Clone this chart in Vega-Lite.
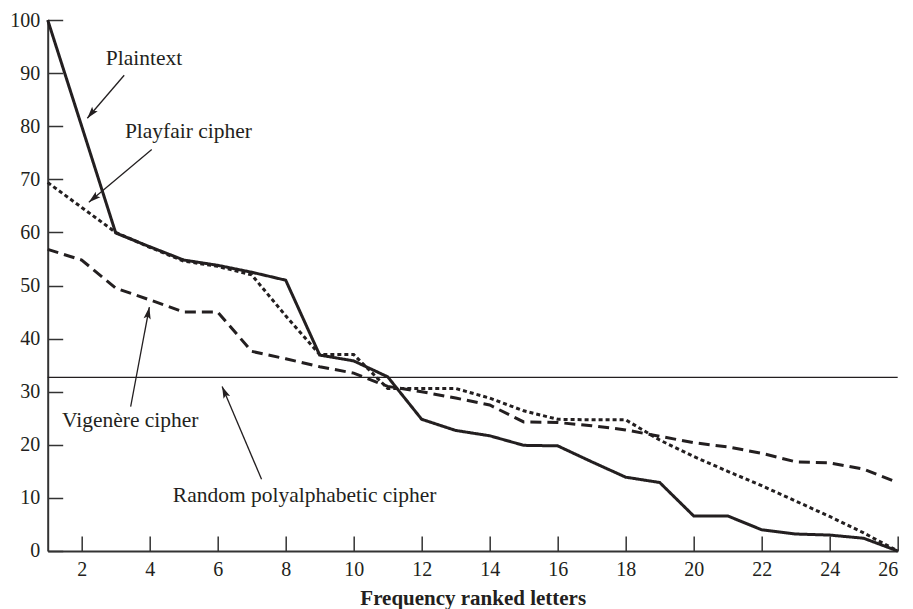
{
  "$schema": "https://vega.github.io/schema/vega-lite/v6.json",
  "width": 850,
  "height": 531,
  "autosize": "none",
  "padding": {"left": 47.7, "top": 20, "right": 15, "bottom": 58},
  "background": "white",
  "config": {
    "view": {"stroke": null},
    "font": "Liberation Serif",
    "axis": {
      "grid": false,
      "domainColor": "#333333",
      "domainWidth": 2,
      "tickColor": "#333333",
      "tickWidth": 1.5,
      "tickSize": -15,
      "labelFont": "Liberation Serif",
      "labelFontSize": 20,
      "labelColor": "#231f20",
      "titleFont": "Liberation Serif",
      "titleColor": "#231f20"
    }
  },
  "datasets": {
    "series": [
      {"rank": 1, "value": 100, "series": "Plaintext"},
      {"rank": 2, "value": 80, "series": "Plaintext"},
      {"rank": 3, "value": 59.9, "series": "Plaintext"},
      {"rank": 4, "value": 57.3, "series": "Plaintext"},
      {"rank": 5, "value": 54.8, "series": "Plaintext"},
      {"rank": 6, "value": 53.8, "series": "Plaintext"},
      {"rank": 7, "value": 52.5, "series": "Plaintext"},
      {"rank": 8, "value": 51, "series": "Plaintext"},
      {"rank": 9, "value": 36.9, "series": "Plaintext"},
      {"rank": 10, "value": 35.8, "series": "Plaintext"},
      {"rank": 11, "value": 32.8, "series": "Plaintext"},
      {"rank": 12, "value": 24.8, "series": "Plaintext"},
      {"rank": 13, "value": 22.7, "series": "Plaintext"},
      {"rank": 14, "value": 21.7, "series": "Plaintext"},
      {"rank": 15, "value": 19.9, "series": "Plaintext"},
      {"rank": 16, "value": 19.8, "series": "Plaintext"},
      {"rank": 17, "value": 16.8, "series": "Plaintext"},
      {"rank": 18, "value": 13.9, "series": "Plaintext"},
      {"rank": 19, "value": 12.9, "series": "Plaintext"},
      {"rank": 20, "value": 6.6, "series": "Plaintext"},
      {"rank": 21, "value": 6.6, "series": "Plaintext"},
      {"rank": 22, "value": 4.0, "series": "Plaintext"},
      {"rank": 23, "value": 3.2, "series": "Plaintext"},
      {"rank": 24, "value": 3.0, "series": "Plaintext"},
      {"rank": 25, "value": 2.4, "series": "Plaintext"},
      {"rank": 26, "value": 0, "series": "Plaintext"},
      {"rank": 1, "value": 69.4, "series": "Playfair cipher"},
      {"rank": 2, "value": 64.7, "series": "Playfair cipher"},
      {"rank": 3, "value": 60, "series": "Playfair cipher"},
      {"rank": 4, "value": 57.2, "series": "Playfair cipher"},
      {"rank": 5, "value": 54.6, "series": "Playfair cipher"},
      {"rank": 6, "value": 53.6, "series": "Playfair cipher"},
      {"rank": 7, "value": 52, "series": "Playfair cipher"},
      {"rank": 8, "value": 44.3, "series": "Playfair cipher"},
      {"rank": 9, "value": 37, "series": "Playfair cipher"},
      {"rank": 10, "value": 37, "series": "Playfair cipher"},
      {"rank": 11, "value": 30.6, "series": "Playfair cipher"},
      {"rank": 12, "value": 30.6, "series": "Playfair cipher"},
      {"rank": 13, "value": 30.6, "series": "Playfair cipher"},
      {"rank": 14, "value": 28.8, "series": "Playfair cipher"},
      {"rank": 15, "value": 26.4, "series": "Playfair cipher"},
      {"rank": 16, "value": 24.8, "series": "Playfair cipher"},
      {"rank": 17, "value": 24.7, "series": "Playfair cipher"},
      {"rank": 18, "value": 24.7, "series": "Playfair cipher"},
      {"rank": 19, "value": 20.9, "series": "Playfair cipher"},
      {"rank": 20, "value": 17.8, "series": "Playfair cipher"},
      {"rank": 21, "value": 15.0, "series": "Playfair cipher"},
      {"rank": 22, "value": 12.3, "series": "Playfair cipher"},
      {"rank": 23, "value": 9.4, "series": "Playfair cipher"},
      {"rank": 24, "value": 6.5, "series": "Playfair cipher"},
      {"rank": 25, "value": 3.4, "series": "Playfair cipher"},
      {"rank": 26, "value": 0, "series": "Playfair cipher"},
      {"rank": 1, "value": 56.8, "series": "Vigenère cipher"},
      {"rank": 2, "value": 54.8, "series": "Vigenère cipher"},
      {"rank": 3, "value": 49.5, "series": "Vigenère cipher"},
      {"rank": 4, "value": 47.3, "series": "Vigenère cipher"},
      {"rank": 5, "value": 45, "series": "Vigenère cipher"},
      {"rank": 6, "value": 45, "series": "Vigenère cipher"},
      {"rank": 7, "value": 37.6, "series": "Vigenère cipher"},
      {"rank": 8, "value": 36.2, "series": "Vigenère cipher"},
      {"rank": 9, "value": 34.7, "series": "Vigenère cipher"},
      {"rank": 10, "value": 33.5, "series": "Vigenère cipher"},
      {"rank": 11, "value": 31, "series": "Vigenère cipher"},
      {"rank": 12, "value": 30, "series": "Vigenère cipher"},
      {"rank": 13, "value": 28.8, "series": "Vigenère cipher"},
      {"rank": 14, "value": 27.5, "series": "Vigenère cipher"},
      {"rank": 15, "value": 24.3, "series": "Vigenère cipher"},
      {"rank": 16, "value": 24.2, "series": "Vigenère cipher"},
      {"rank": 17, "value": 23.6, "series": "Vigenère cipher"},
      {"rank": 18, "value": 22.8, "series": "Vigenère cipher"},
      {"rank": 19, "value": 21.6, "series": "Vigenère cipher"},
      {"rank": 20, "value": 20.4, "series": "Vigenère cipher"},
      {"rank": 21, "value": 19.6, "series": "Vigenère cipher"},
      {"rank": 22, "value": 18.4, "series": "Vigenère cipher"},
      {"rank": 23, "value": 16.8, "series": "Vigenère cipher"},
      {"rank": 24, "value": 16.6, "series": "Vigenère cipher"},
      {"rank": 25, "value": 15.4, "series": "Vigenère cipher"},
      {"rank": 26, "value": 12.9, "series": "Vigenère cipher"}
    ],
    "reference": [
      {"from": 1, "to": 26, "level": 32.7, "series": "Random polyalphabetic cipher"}
    ],
    "notes": [
      {"label": "Plaintext", "tx": 2.71, "ty": 91.5, "ax": 3.25, "ay": 89.6, "hx": 2.165, "hy": 81.5},
      {"label": "Playfair cipher", "tx": 3.27, "ty": 77.8, "ax": 4.06, "ay": 75.6, "hx": 2.21, "hy": 65.7},
      {"label": "Vigenère cipher", "tx": 1.42, "ty": 23.35, "ax": 3.44, "ay": 27.2, "hx": 3.99, "hy": 45.95},
      {"label": "Random polyalphabetic cipher", "tx": 4.68, "ty": 9.3, "ax": 7.29, "ay": 13.5, "hx": 6.13, "hy": 31.0}
    ]
  },
  "layer": [
    {
      "data": {"name": "reference"},
      "mark": {"type": "rule", "color": "#231f20", "strokeWidth": 1.4},
      "encoding": {
        "x": {"field": "from", "type": "quantitative"},
        "x2": {"field": "to"},
        "y": {"field": "level", "type": "quantitative"}
      }
    },
    {
      "data": {"name": "series"},
      "mark": {"type": "line", "color": "#231f20", "strokeWidth": 3, "strokeCap": "butt", "strokeJoin": "miter"},
      "encoding": {
        "x": {
          "field": "rank", "type": "quantitative",
          "scale": {"domain": [1, 26], "nice": false, "zero": false},
          "axis": {
            "values": [2, 4, 6, 8, 10, 12, 14, 16, 18, 20, 22, 24, 26],
            "title": "Frequency ranked letters",
            "titleFontSize": 21,
            "titleFontWeight": "bold",
            "labelPadding": 24,
            "titlePadding": 8
          }
        },
        "y": {
          "field": "value", "type": "quantitative",
          "scale": {"domain": [0, 100], "nice": false},
          "axis": {
            "values": [0, 10, 20, 30, 40, 50, 60, 70, 80, 90, 100],
            "title": null,
            "labelPadding": 23
          }
        },
        "detail": {"field": "series"},
        "strokeDash": {
          "field": "series", "type": "nominal",
          "scale": {
            "domain": ["Plaintext", "Playfair cipher", "Vigenère cipher"],
            "range": [[1, 0], [4, 3], [11, 6]]
          },
          "legend": null
        },
        "order": {"field": "rank", "type": "quantitative"}
      }
    },
    {
      "data": {"name": "notes"},
      "mark": {"type": "rule", "color": "#231f20", "strokeWidth": 1.3},
      "encoding": {
        "x": {"field": "ax", "type": "quantitative"},
        "y": {"field": "ay", "type": "quantitative"},
        "x2": {"field": "hx"},
        "y2": {"field": "hy"}
      }
    },
    {
      "data": {"name": "notes"},
      "transform": [{"filter": "datum.label === 'Plaintext'"}],
      "mark": {"type": "point", "shape": "M0,0L0.6,2L0,1.6L-0.6,2Z", "size": 144, "filled": true, "color": "#231f20", "opacity": 1, "angle": 219.4},
      "encoding": {"x": {"field": "hx", "type": "quantitative"}, "y": {"field": "hy", "type": "quantitative"}}
    },
    {
      "data": {"name": "notes"},
      "transform": [{"filter": "datum.label === 'Playfair cipher'"}],
      "mark": {"type": "point", "shape": "M0,0L0.6,2L0,1.6L-0.6,2Z", "size": 144, "filled": true, "color": "#231f20", "opacity": 1, "angle": 230},
      "encoding": {"x": {"field": "hx", "type": "quantitative"}, "y": {"field": "hy", "type": "quantitative"}}
    },
    {
      "data": {"name": "notes"},
      "transform": [{"filter": "datum.label === 'Vigenère cipher'"}],
      "mark": {"type": "point", "shape": "M0,0L0.6,2L0,1.6L-0.6,2Z", "size": 144, "filled": true, "color": "#231f20", "opacity": 1, "angle": 10.7},
      "encoding": {"x": {"field": "hx", "type": "quantitative"}, "y": {"field": "hy", "type": "quantitative"}}
    },
    {
      "data": {"name": "notes"},
      "transform": [{"filter": "datum.label === 'Random polyalphabetic cipher'"}],
      "mark": {"type": "point", "shape": "M0,0L0.6,2L0,1.6L-0.6,2Z", "size": 144, "filled": true, "color": "#231f20", "opacity": 1, "angle": 336.8},
      "encoding": {"x": {"field": "hx", "type": "quantitative"}, "y": {"field": "hy", "type": "quantitative"}}
    },
    {
      "data": {"name": "notes"},
      "mark": {"type": "text", "font": "Liberation Serif", "fontSize": 21.5, "color": "#231f20", "align": "left", "baseline": "alphabetic"},
      "encoding": {
        "x": {"field": "tx", "type": "quantitative"},
        "y": {"field": "ty", "type": "quantitative"},
        "text": {"field": "label"}
      }
    }
  ]
}
